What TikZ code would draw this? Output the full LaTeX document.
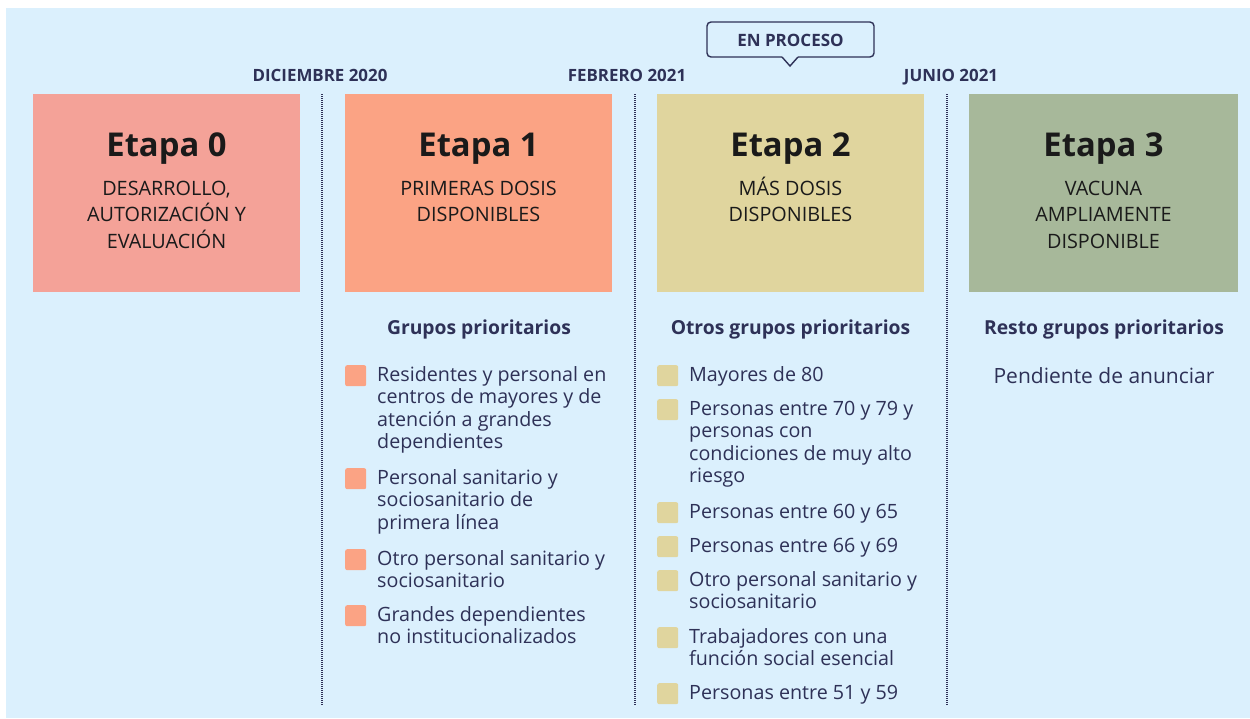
\documentclass[tikz,border=0pt]{standalone}
\usepackage{fontspec}
\setmainfont{Open Sans}
\definecolor{bgblue}{HTML}{DBF0FD}
\definecolor{navy}{HTML}{2E3157}
\definecolor{czero}{HTML}{F4A298}
\definecolor{cone}{HTML}{FBA384}
\definecolor{ctwo}{HTML}{E0D59E}
\definecolor{cthree}{HTML}{A7B89A}
\definecolor{boxtext}{HTML}{1A1A1A}
\tikzset{
  stagebox/.style={draw=none, inner sep=0pt, minimum width=267pt, minimum height=198pt, anchor=north west},
  stagetitle/.style={inner sep=0pt, anchor=base, text=boxtext, font=\fontsize{32.8}{38}\selectfont\bfseries},
  stagesub/.style={inner sep=0pt, anchor=base, align=center, text=boxtext, font=\fontsize{19.8}{26.5}\selectfont},
  datelabel/.style={inner sep=0pt, anchor=base, text=navy, font=\fontsize{16.9}{19}\selectfont\bfseries},
  grouphead/.style={inner sep=0pt, anchor=base, text=navy, font=\fontsize{19.3}{22}\selectfont\bfseries},
  itemtext/.style={inner sep=0pt, anchor=base west, align=left, text=navy, font=\fontsize{19.7}{22.6}\selectfont},
  bullet/.style={inner sep=0pt, minimum size=21pt, anchor=north west, rounded corners=2pt},
  sepline/.style={draw=navy, line width=1.1pt, dash pattern=on 0.9pt off 1.1pt},
}
\begin{document}
\begin{tikzpicture}[x=1pt,y=-1pt]
\useasboundingbox (0,0) rectangle (1250,718);
\fill[bgblue] (6,8) rectangle (1250,718);

% separators
\coordinate (d1t) at (322,94); \coordinate (d1b) at (322,705);
\coordinate (d2t) at (635,94); \coordinate (d2b) at (635,705);
\coordinate (d3t) at (947,94); \coordinate (d3b) at (947,705);
\draw[sepline] (d1t) -- (d1b);
\draw[sepline] (d2t) -- (d2b);
\draw[sepline] (d3t) -- (d3b);

% date labels
\node[datelabel] (dl1) at (320,81) {DICIEMBRE 2020};
\node[datelabel] (dl2) at (627,81) {FEBRERO 2021};
\node[datelabel] (dl3) at (951,81) {JUNIO 2021};

% callout
\draw[navy, line width=1.4pt, fill=bgblue, rounded corners=4pt]
  (782,57) -- (707,57) -- (707,22) -- (874,22) -- (874,57) -- (798,57);
\draw[navy, line width=1.4pt, fill=bgblue, line join=miter]
  (782,57) -- (790,66) -- (798,57);
\node[inner sep=0pt, anchor=base, text=navy, font=\fontsize{17}{19}\selectfont\bfseries] (proc) at (790.5,46) {EN PROCESO};

% stage boxes
\node[stagebox, fill=czero] (s0) at (33,94) {};
\node[stagebox, fill=cone] (s1) at (345,94) {};
\node[stagebox, fill=ctwo] (s2) at (657,94) {};
\node[stagebox, fill=cthree, minimum width=269pt] (s3) at (969,94) {};

\node[stagetitle] (t0) at (166.5,156) {Etapa 0};
\node[stagetitle] (t1) at (478.5,156) {Etapa 1};
\node[stagetitle] (t2) at (790.5,156) {Etapa 2};
\node[stagetitle] (t3) at (1103.5,156) {Etapa 3};

% subtitles (base anchor = last line baseline)
\node[stagesub] (u0) at (166.5,248) {DESARROLLO,\\AUTORIZACIÓN Y\\EVALUACIÓN};
\node[stagesub] (u1) at (478.5,221.5) {PRIMERAS DOSIS\\DISPONIBLES};
\node[stagesub] (u2) at (790.5,221.5) {MÁS DOSIS\\DISPONIBLES};
\node[stagesub] (u3) at (1103.5,248) {VACUNA\\AMPLIAMENTE\\DISPONIBLE};

% group headers
\node[grouphead] (g1) at (479,334) {Grupos prioritarios};
\node[grouphead] (g2) at (790.5,334) {Otros grupos prioritarios};
\node[grouphead] (g3) at (1104,334) {Resto grupos prioritarios};
\node[inner sep=0pt, anchor=base, text=navy, font=\fontsize{21}{24}\selectfont] (p3) at (1104,383) {Pendiente de anunciar};

% Etapa 1 items (base anchor = last line baseline)
\node[bullet, fill=cone] (b11) at (345,365) {};
\node[itemtext] (i11) at (377,448.8) {Residentes y personal en\\centros de mayores y de\\atención a grandes\\dependientes};
\node[bullet, fill=cone] (b12) at (345,468) {};
\node[itemtext] (i12) at (377,529.2) {Personal sanitario y\\sociosanitario de\\primera línea};
\node[bullet, fill=cone] (b13) at (345,549) {};
\node[itemtext] (i13) at (377,587.6) {Otro personal sanitario y\\sociosanitario};
\node[bullet, fill=cone] (b14) at (345,605) {};
\node[itemtext] (i14) at (377,643.6) {Grandes dependientes\\no institucionalizados};

% Etapa 2 items
\node[bullet, fill=ctwo] (b21) at (657,365) {};
\node[itemtext] (i21) at (689,381) {Mayores de 80};
\node[bullet, fill=ctwo] (b22) at (657,399) {};
\node[itemtext] (i22) at (689,482.8) {Personas entre 70 y 79 y\\personas con\\condiciones de muy alto\\riesgo};
\node[bullet, fill=ctwo] (b23) at (657,502) {};
\node[itemtext] (i23) at (689,518) {Personas entre 60 y 65};
\node[bullet, fill=ctwo] (b24) at (657,536) {};
\node[itemtext] (i24) at (689,552) {Personas entre 66 y 69};
\node[bullet, fill=ctwo] (b25) at (657,570) {};
\node[itemtext] (i25) at (689,608.6) {Otro personal sanitario y\\sociosanitario};
\node[bullet, fill=ctwo] (b26) at (657,627) {};
\node[itemtext] (i26) at (689,665.6) {Trabajadores con una\\función social esencial};
\node[bullet, fill=ctwo] (b27) at (657,683) {};
\node[itemtext] (i27) at (689,699) {Personas entre 51 y 59};
\end{tikzpicture}
\end{document}
